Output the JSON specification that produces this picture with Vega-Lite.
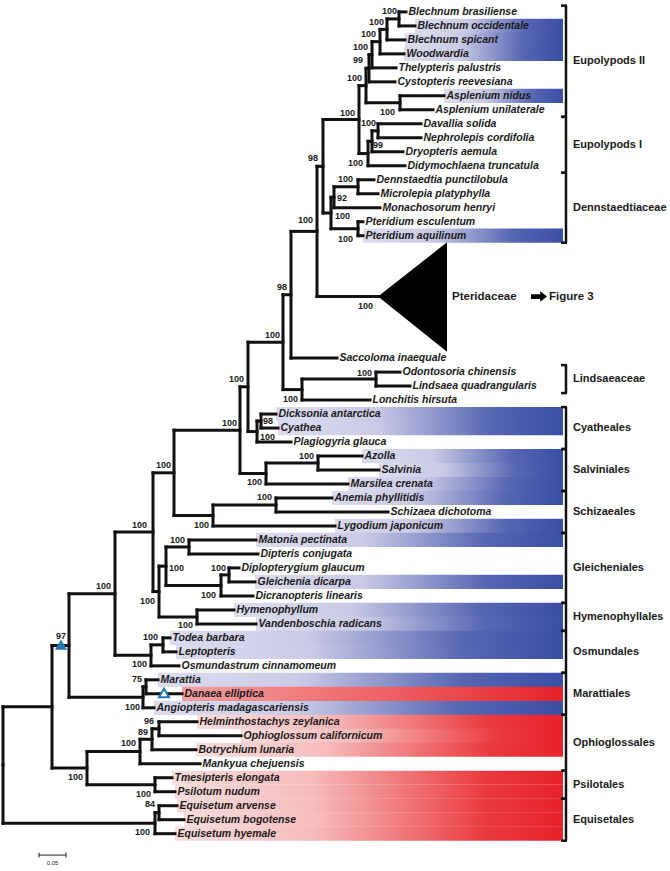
{
  "$schema": "https://vega.github.io/schema/vega-lite/v6.json",
  "width": 670,
  "height": 871,
  "padding": 0,
  "autosize": {"type": "fit", "contains": "padding"},
  "background": "white",
  "view": {"stroke": null},
  "config": {"axis": {"disable": true}},
  "datasets": {
    "tips": [
      {"name":"Blechnum brasiliense","row":0,"px":399,"tx":406,"box":"none"},
      {"name":"Blechnum occidentale","row":1,"px":399,"tx":415,"box":"blue"},
      {"name":"Blechnum spicant","row":2,"px":387,"tx":405,"box":"blue"},
      {"name":"Woodwardia","row":3,"px":380,"tx":404,"box":"blue"},
      {"name":"Thelypteris palustris","row":4,"px":372,"tx":396,"box":"none"},
      {"name":"Cystopteris reevesiana","row":5,"px":369,"tx":395,"box":"none"},
      {"name":"Asplenium nidus","row":6,"px":400,"tx":444,"box":"blue"},
      {"name":"Asplenium unilaterale","row":7,"px":400,"tx":433,"box":"none"},
      {"name":"Davallia solida","row":8,"px":378,"tx":421,"box":"none"},
      {"name":"Nephrolepis cordifolia","row":9,"px":378,"tx":421,"box":"none"},
      {"name":"Dryopteris aemula","row":10,"px":372,"tx":403,"box":"none"},
      {"name":"Didymochlaena truncatula","row":11,"px":368,"tx":405,"box":"none"},
      {"name":"Dennstaedtia punctilobula","row":12,"px":358,"tx":374,"box":"none"},
      {"name":"Microlepia platyphylla","row":13,"px":358,"tx":378,"box":"none"},
      {"name":"Monachosorum henryi","row":14,"px":334,"tx":380,"box":"none"},
      {"name":"Pteridium esculentum","row":15,"px":358,"tx":363,"box":"none"},
      {"name":"Pteridium aquilinum","row":16,"px":358,"tx":363,"box":"blue"},
      {"name":"Saccoloma inaequale","row":24.75,"px":291,"tx":337,"box":"none"},
      {"name":"Odontosoria chinensis","row":25.75,"px":376,"tx":400,"box":"none"},
      {"name":"Lindsaea quadrangularis","row":26.75,"px":376,"tx":410,"box":"none"},
      {"name":"Lonchitis hirsuta","row":27.75,"px":302,"tx":370,"box":"none"},
      {"name":"Dicksonia antarctica","row":28.75,"px":261,"tx":276,"box":"blue"},
      {"name":"Cyathea","row":29.75,"px":261,"tx":278,"box":"blue"},
      {"name":"Plagiogyria glauca","row":30.75,"px":257,"tx":291,"box":"none"},
      {"name":"Azolla","row":31.75,"px":318,"tx":362,"box":"blue"},
      {"name":"Salvinia","row":32.75,"px":318,"tx":379,"box":"blue"},
      {"name":"Marsilea crenata","row":33.75,"px":266,"tx":348,"box":"blue"},
      {"name":"Anemia phyllitidis","row":34.75,"px":276,"tx":332,"box":"blue"},
      {"name":"Schizaea dichotoma","row":35.75,"px":276,"tx":388,"box":"none"},
      {"name":"Lygodium japonicum","row":36.75,"px":213,"tx":335,"box":"blue"},
      {"name":"Matonia pectinata","row":37.75,"px":189,"tx":256,"box":"blue"},
      {"name":"Dipteris conjugata","row":38.75,"px":189,"tx":258,"box":"none"},
      {"name":"Diplopterygium glaucum","row":39.75,"px":229,"tx":239,"box":"none"},
      {"name":"Gleichenia dicarpa","row":40.75,"px":229,"tx":255,"box":"blue"},
      {"name":"Dicranopteris linearis","row":41.75,"px":221,"tx":253,"box":"none"},
      {"name":"Hymenophyllum","row":42.75,"px":197,"tx":234,"box":"blue"},
      {"name":"Vandenboschia radicans","row":43.75,"px":197,"tx":256,"box":"blue"},
      {"name":"Todea barbara","row":44.75,"px":163,"tx":170,"box":"blue"},
      {"name":"Leptopteris","row":45.75,"px":163,"tx":176,"box":"blue"},
      {"name":"Osmundastrum cinnamomeum","row":46.75,"px":151,"tx":179,"box":"none"},
      {"name":"Marattia","row":47.75,"px":146,"tx":158,"box":"blue"},
      {"name":"Danaea elliptica","row":48.75,"px":146,"tx":182,"box":"red2"},
      {"name":"Angiopteris madagascariensis","row":49.75,"px":143,"tx":154,"box":"blue"},
      {"name":"Helminthostachys zeylanica","row":50.75,"px":159,"tx":197,"box":"red"},
      {"name":"Ophioglossum californicum","row":51.75,"px":159,"tx":241,"box":"red"},
      {"name":"Botrychium lunaria","row":52.75,"px":152,"tx":196,"box":"red"},
      {"name":"Mankyua chejuensis","row":53.75,"px":140,"tx":200,"box":"none"},
      {"name":"Tmesipteris elongata","row":54.75,"px":155,"tx":172,"box":"red"},
      {"name":"Psilotum nudum","row":55.75,"px":155,"tx":175,"box":"red"},
      {"name":"Equisetum arvense","row":56.75,"px":159,"tx":177,"box":"red"},
      {"name":"Equisetum bogotense","row":57.75,"px":159,"tx":184,"box":"red"},
      {"name":"Equisetum hyemale","row":58.75,"px":155,"tx":175,"box":"red"}
    ],
    "nodes": [
      {"id":"A","x":399,"y1":0,"y2":1,"ym":0.5,"px":387,"label":"100","lx":397,"ly":-0.07},
      {"id":"B","x":387,"y1":0.5,"y2":2,"ym":1.25,"px":380,"label":"100","lx":384,"ly":0.71},
      {"id":"C","x":380,"y1":1.25,"y2":3,"ym":2.125,"px":372,"label":"100","lx":376,"ly":1.55},
      {"id":"D","x":372,"y1":2.125,"y2":4,"ym":3.06,"px":369,"label":"100","lx":368,"ly":2.54},
      {"id":"E","x":369,"y1":3.06,"y2":5,"ym":4.03,"px":366,"label":"99","lx":363,"ly":3.46},
      {"id":"Asp","x":400,"y1":6,"y2":7,"ym":6.5,"px":366,"label":"100","lx":395,"ly":7.14},
      {"id":"F","x":366,"y1":4.03,"y2":6.5,"ym":5.27,"px":359,"label":"100","lx":362,"ly":4.73},
      {"id":"N1","x":378,"y1":8,"y2":9,"ym":8.5,"px":372,"label":"100","lx":376,"ly":7.92},
      {"id":"N2","x":372,"y1":8.5,"y2":10,"ym":9.25,"px":368,"label":"99","lx":383,"ly":9.54},
      {"id":"N3","x":368,"y1":9.25,"y2":11,"ym":10.125,"px":359,"label":"100","lx":363,"ly":10.81},
      {"id":"G","x":359,"y1":5.27,"y2":10.125,"ym":7.7,"px":323,"label":"100","lx":355,"ly":7.21},
      {"id":"H1","x":358,"y1":12,"y2":13,"ym":12.5,"px":334,"label":"100","lx":353,"ly":11.94},
      {"id":"H2","x":334,"y1":12.5,"y2":14,"ym":13.25,"px":331,"label":"92","lx":347,"ly":13.29},
      {"id":"H3","x":358,"y1":15,"y2":16,"ym":15.5,"px":331,"label":"100","lx":353,"ly":16.25},
      {"id":"H4","x":331,"y1":13.25,"y2":15.5,"ym":14.375,"px":323,"label":"100","lx":350,"ly":14.56},
      {"id":"I","x":323,"y1":7.7,"y2":14.375,"ym":11.04,"px":317,"label":"98","lx":318,"ly":10.46},
      {"id":"J","x":317,"y1":11.04,"y2":20.35,"ym":15.69,"px":291,"label":"100","lx":313,"ly":14.91},
      {"id":"Pt","x":378,"y1":20.35,"y2":20.35,"ym":20.35,"px":317,"label":"100","lx":373,"ly":21.06},
      {"id":"K","x":291,"y1":15.69,"y2":24.75,"ym":20.22,"px":283,"label":"98","lx":287,"ly":19.65},
      {"id":"M2","x":376,"y1":25.75,"y2":26.75,"ym":26.25,"px":302,"label":"100","lx":372,"ly":25.8},
      {"id":"M","x":302,"y1":26.25,"y2":27.75,"ym":27,"px":283,"label":"100","lx":298,"ly":27.7},
      {"id":"L","x":283,"y1":20.22,"y2":27,"ym":23.61,"px":248,"label":"100","lx":280,"ly":23.11},
      {"id":"O1","x":261,"y1":28.75,"y2":29.75,"ym":29.25,"px":257,"label":"98","lx":273,"ly":29.26},
      {"id":"O2","x":257,"y1":29.25,"y2":30.75,"ym":30,"px":248,"label":"100","lx":275,"ly":30.39},
      {"id":"N","x":248,"y1":23.61,"y2":30,"ym":26.8,"px":240,"label":"100","lx":244,"ly":26.22},
      {"id":"Q1","x":318,"y1":31.75,"y2":32.75,"ym":32.25,"px":266,"label":"100","lx":314,"ly":31.73},
      {"id":"Q2","x":266,"y1":32.25,"y2":33.75,"ym":33,"px":240,"label":"100","lx":262,"ly":33.64},
      {"id":"P","x":240,"y1":26.8,"y2":33,"ym":29.9,"px":174,"label":"100","lx":237,"ly":29.4},
      {"id":"S1","x":276,"y1":34.75,"y2":35.75,"ym":35.25,"px":213,"label":"100","lx":272,"ly":34.7},
      {"id":"S2","x":213,"y1":35.25,"y2":36.75,"ym":36,"px":174,"label":"100","lx":209,"ly":36.68},
      {"id":"R","x":174,"y1":29.9,"y2":36,"ym":32.95,"px":153,"label":"100","lx":171,"ly":32.37},
      {"id":"T1","x":189,"y1":37.75,"y2":38.75,"ym":38.25,"px":166,"label":"100","lx":185,"ly":37.74},
      {"id":"T2","x":229,"y1":39.75,"y2":40.75,"ym":40.25,"px":221,"label":"100","lx":226,"ly":39.72},
      {"id":"T3","x":221,"y1":40.25,"y2":41.75,"ym":41,"px":166,"label":"100","lx":216,"ly":41.7},
      {"id":"T4","x":166,"y1":38.25,"y2":41,"ym":39.625,"px":159,"label":"100","lx":184,"ly":39.72},
      {"id":"U1","x":197,"y1":42.75,"y2":43.75,"ym":43.25,"px":159,"label":"100","lx":193,"ly":43.82},
      {"id":"T5","x":159,"y1":39.625,"y2":43.25,"ym":41.44,"px":153,"label":"100","lx":155,"ly":42.12},
      {"id":"V","x":153,"y1":32.95,"y2":41.44,"ym":37.19,"px":115,"label":"100","lx":147,"ly":36.68},
      {"id":"X1","x":163,"y1":44.75,"y2":45.75,"ym":45.25,"px":151,"label":"100","lx":158,"ly":44.66},
      {"id":"X2","x":151,"y1":45.25,"y2":46.75,"ym":46,"px":115,"label":"100","lx":147,"ly":46.64},
      {"id":"W","x":115,"y1":37.19,"y2":46,"ym":41.6,"px":69,"label":"100","lx":111,"ly":41.06},
      {"id":"Z1","x":146,"y1":47.75,"y2":48.75,"ym":48.25,"px":143,"label":"75","lx":142,"ly":47.7},
      {"id":"Z2","x":143,"y1":48.25,"y2":49.75,"ym":49,"px":69,"label":"100","lx":140,"ly":49.68},
      {"id":"Y","x":69,"y1":41.6,"y2":49,"ym":45.3,"px":52,"label":"97","lx":66,"ly":44.6},
      {"id":"BB1","x":159,"y1":50.75,"y2":51.75,"ym":51.25,"px":152,"label":"96","lx":154,"ly":50.67},
      {"id":"BB2","x":152,"y1":51.25,"y2":52.75,"ym":52,"px":140,"label":"89","lx":148,"ly":51.45},
      {"id":"BB3","x":140,"y1":52,"y2":53.75,"ym":52.875,"px":87,"label":"100","lx":136,"ly":52.3},
      {"id":"PS","x":155,"y1":54.75,"y2":55.75,"ym":55.25,"px":87,"label":"100","lx":151,"ly":55.9},
      {"id":"BB","x":87,"y1":52.875,"y2":55.25,"ym":54.06,"px":52,"label":"100","lx":83,"ly":54.7},
      {"id":"AA","x":52,"y1":45.3,"y2":54.06,"ym":49.68,"px":3,"label":""},
      {"id":"EE1","x":159,"y1":56.75,"y2":57.75,"ym":57.25,"px":155,"label":"84","lx":155,"ly":56.6},
      {"id":"EE2","x":155,"y1":57.25,"y2":58.75,"ym":58,"px":3,"label":"100","lx":150,"ly":58.66},
      {"id":"Root","x":3,"y1":49.68,"y2":58,"ym":53.84,"px":3,"label":""}
    ],
    "clades": [
      {"name":"Eupolypods II","top":-0.45,"bot":7.5,"lab":3.5},
      {"name":"Eupolypods I","top":7.5,"bot":11.5,"lab":9.5},
      {"name":"Dennstaedtiaceae","top":11.5,"bot":16.5,"lab":14},
      {"name":"Lindsaeaceae","top":25.25,"bot":27.25,"lab":26.25},
      {"name":"Cyatheales","top":28.25,"bot":31.25,"lab":29.75},
      {"name":"Salviniales","top":31.25,"bot":34.25,"lab":32.75},
      {"name":"Schizaeales","top":34.25,"bot":37.25,"lab":35.75},
      {"name":"Gleicheniales","top":37.25,"bot":42.25,"lab":39.75},
      {"name":"Hymenophyllales","top":42.25,"bot":44.25,"lab":43.25},
      {"name":"Osmundales","top":44.25,"bot":47.25,"lab":45.75},
      {"name":"Marattiales","top":47.25,"bot":50.25,"lab":48.75},
      {"name":"Ophioglossales","top":50.25,"bot":54.25,"lab":52.25},
      {"name":"Psilotales","top":54.25,"bot":56.25,"lab":55.25},
      {"name":"Equisetales","top":56.25,"bot":59.25,"lab":57.75}
    ],
    "pter": [
      {"x":378,"lo":20.35,"hi":20.35},
      {"x":447,"lo":16.47,"hi":24.29}
    ],
    "marks": [
      {"kind":"filled","x":61,"y":45.23},
      {"kind":"open","x":164,"y":48.69},
      {"kind":"arrow","x":539,"y":20.35}
    ],
    "notes": [
      {"text":"Pteridaceae","x":452,"y":20.35},
      {"text":"Figure 3","x":549,"y":20.35}
    ],
    "scalebar": [
      {"x":39,"x2":66,"y":60.28,"yt":60.1,"yb":60.46,"label":"0.05","lx":52.5,"ly":60.85}
    ]
  },
  "layer": [
    {
      "data": {"name": "tips"},
      "transform": [{"filter": "datum.box == 'blue'"}],
      "mark": {"type": "bar", "orient": "horizontal", "size": 14.2,
        "fill": {"gradient": "linear", "x1": 0, "y1": 0, "x2": 1, "y2": 0,
          "stops": [{"offset": 0, "color": "#dcdcf0"}, {"offset": 0.35, "color": "#cacae6"}, {"offset": 0.75, "color": "#5566b2"}, {"offset": 1, "color": "#3a4ea5"}]}},
      "encoding": {
        "x": {"field": "tx", "type": "quantitative", "scale": {"domain": [0, 670], "nice": false, "zero": false}, "axis": null},
        "x2": {"datum": 563},
        "y": {"field": "row", "type": "quantitative", "scale": {"domain": [-0.4947, 61.06], "reverse": true, "nice": false, "zero": false}, "axis": null}
      }
    },
    {
      "data": {"name": "tips"},
      "transform": [{"filter": "datum.box == 'red'"}],
      "mark": {"type": "bar", "orient": "horizontal", "size": 14.2,
        "fill": {"gradient": "linear", "x1": 0, "y1": 0, "x2": 1, "y2": 0,
          "stops": [{"offset": 0, "color": "#fbdcdc"}, {"offset": 0.35, "color": "#f6bcbc"}, {"offset": 0.8, "color": "#ea3a3e"}, {"offset": 1, "color": "#e6222a"}]}},
      "encoding": {
        "x": {"field": "tx", "type": "quantitative", "scale": {"domain": [0, 670], "nice": false, "zero": false}, "axis": null},
        "x2": {"datum": 563},
        "y": {"field": "row", "type": "quantitative", "scale": {"domain": [-0.4947, 61.06], "reverse": true, "nice": false, "zero": false}, "axis": null}
      }
    },
    {
      "data": {"name": "tips"},
      "transform": [{"filter": "datum.box == 'red2'"}],
      "mark": {"type": "bar", "orient": "horizontal", "size": 14.2,
        "fill": {"gradient": "linear", "x1": 0, "y1": 0, "x2": 1, "y2": 0,
          "stops": [{"offset": 0, "color": "#f4a0a0"}, {"offset": 0.5, "color": "#ee6668"}, {"offset": 1, "color": "#e6222a"}]}},
      "encoding": {
        "x": {"field": "tx", "type": "quantitative", "scale": {"domain": [0, 670], "nice": false, "zero": false}, "axis": null},
        "x2": {"datum": 563},
        "y": {"field": "row", "type": "quantitative", "scale": {"domain": [-0.4947, 61.06], "reverse": true, "nice": false, "zero": false}, "axis": null}
      }
    },
    {
      "data": {"name": "tips"},
      "mark": {"type": "rule", "strokeWidth": 3, "strokeCap": "square", "color": "#111111"},
      "encoding": {
        "x": {"field": "px", "type": "quantitative", "scale": {"domain": [0, 670], "nice": false, "zero": false}, "axis": null},
        "x2": {"field": "tx"},
        "y": {"field": "row", "type": "quantitative", "scale": {"domain": [-0.4947, 61.06], "reverse": true, "nice": false, "zero": false}, "axis": null}
      }
    },
    {
      "data": {"name": "nodes"},
      "mark": {"type": "rule", "strokeWidth": 3, "strokeCap": "square", "color": "#111111"},
      "encoding": {
        "x": {"field": "x", "type": "quantitative", "scale": {"domain": [0, 670], "nice": false, "zero": false}, "axis": null},
        "y": {"field": "y1", "type": "quantitative", "scale": {"domain": [-0.4947, 61.06], "reverse": true, "nice": false, "zero": false}, "axis": null},
        "y2": {"field": "y2"}
      }
    },
    {
      "data": {"name": "nodes"},
      "mark": {"type": "rule", "strokeWidth": 3, "strokeCap": "square", "color": "#111111"},
      "encoding": {
        "x": {"field": "px", "type": "quantitative", "scale": {"domain": [0, 670], "nice": false, "zero": false}, "axis": null},
        "x2": {"field": "x"},
        "y": {"field": "ym", "type": "quantitative", "scale": {"domain": [-0.4947, 61.06], "reverse": true, "nice": false, "zero": false}, "axis": null}
      }
    },
    {
      "data": {"name": "pter"},
      "mark": {"type": "area", "color": "#000000", "opacity": 1},
      "encoding": {
        "x": {"field": "x", "type": "quantitative", "scale": {"domain": [0, 670], "nice": false, "zero": false}, "axis": null},
        "y": {"field": "lo", "type": "quantitative", "scale": {"domain": [-0.4947, 61.06], "reverse": true, "nice": false, "zero": false}, "axis": null},
        "y2": {"field": "hi"}
      }
    },
    {
      "data": {"name": "tips"},
      "mark": {"type": "text", "align": "left", "baseline": "middle", "dx": 2.5, "font": "Liberation Sans", "fontSize": 10.5, "fontStyle": "italic", "fontWeight": "bold", "color": "#1a1a1a"},
      "encoding": {
        "x": {"field": "tx", "type": "quantitative", "scale": {"domain": [0, 670], "nice": false, "zero": false}, "axis": null},
        "y": {"field": "row", "type": "quantitative", "scale": {"domain": [-0.4947, 61.06], "reverse": true, "nice": false, "zero": false}, "axis": null},
        "text": {"field": "name"}
      }
    },
    {
      "data": {"name": "nodes"},
      "transform": [{"filter": "datum.label != ''"}],
      "mark": {"type": "text", "align": "right", "baseline": "middle", "font": "Liberation Sans", "fontSize": 9, "fontWeight": "bold", "color": "#1a1a1a"},
      "encoding": {
        "x": {"field": "lx", "type": "quantitative", "scale": {"domain": [0, 670], "nice": false, "zero": false}, "axis": null},
        "y": {"field": "ly", "type": "quantitative", "scale": {"domain": [-0.4947, 61.06], "reverse": true, "nice": false, "zero": false}, "axis": null},
        "text": {"field": "label"}
      }
    },
    {
      "data": {"name": "clades"},
      "mark": {"type": "rule", "strokeWidth": 2.5, "color": "#111111"},
      "encoding": {
        "x": {"datum": 566, "type": "quantitative", "scale": {"domain": [0, 670], "nice": false, "zero": false}, "axis": null},
        "y": {"field": "top", "type": "quantitative", "scale": {"domain": [-0.4947, 61.06], "reverse": true, "nice": false, "zero": false}, "axis": null},
        "y2": {"field": "bot"}
      }
    },
    {
      "data": {"name": "clades"},
      "mark": {"type": "rule", "strokeWidth": 2.5, "color": "#111111"},
      "encoding": {
        "x": {"datum": 561, "type": "quantitative", "scale": {"domain": [0, 670], "nice": false, "zero": false}, "axis": null},
        "x2": {"datum": 567},
        "y": {"field": "top", "type": "quantitative", "scale": {"domain": [-0.4947, 61.06], "reverse": true, "nice": false, "zero": false}, "axis": null}
      }
    },
    {
      "data": {"name": "clades"},
      "mark": {"type": "rule", "strokeWidth": 2.5, "color": "#111111"},
      "encoding": {
        "x": {"datum": 561, "type": "quantitative", "scale": {"domain": [0, 670], "nice": false, "zero": false}, "axis": null},
        "x2": {"datum": 567},
        "y": {"field": "bot", "type": "quantitative", "scale": {"domain": [-0.4947, 61.06], "reverse": true, "nice": false, "zero": false}, "axis": null}
      }
    },
    {
      "data": {"name": "clades"},
      "mark": {"type": "text", "align": "left", "baseline": "middle", "font": "Liberation Sans", "fontSize": 11, "fontWeight": "bold", "color": "#1a1a1a"},
      "encoding": {
        "x": {"datum": 573, "type": "quantitative", "scale": {"domain": [0, 670], "nice": false, "zero": false}, "axis": null},
        "y": {"field": "lab", "type": "quantitative", "scale": {"domain": [-0.4947, 61.06], "reverse": true, "nice": false, "zero": false}, "axis": null},
        "text": {"field": "name"}
      }
    },
    {
      "data": {"name": "notes"},
      "mark": {"type": "text", "align": "left", "baseline": "middle", "font": "Liberation Sans", "fontSize": 11.5, "fontWeight": "bold", "color": "#1a1a1a"},
      "encoding": {
        "x": {"field": "x", "type": "quantitative", "scale": {"domain": [0, 670], "nice": false, "zero": false}, "axis": null},
        "y": {"field": "y", "type": "quantitative", "scale": {"domain": [-0.4947, 61.06], "reverse": true, "nice": false, "zero": false}, "axis": null},
        "text": {"field": "text"}
      }
    },
    {
      "data": {"name": "marks"},
      "transform": [{"filter": "datum.kind == 'filled'"}],
      "mark": {"type": "point", "shape": "M 0 -0.85 L 1 0.85 L -1 0.85 Z", "size": 144, "filled": true, "fill": "#1f78b4", "stroke": null, "opacity": 1},
      "encoding": {
        "x": {"field": "x", "type": "quantitative", "scale": {"domain": [0, 670], "nice": false, "zero": false}, "axis": null},
        "y": {"field": "y", "type": "quantitative", "scale": {"domain": [-0.4947, 61.06], "reverse": true, "nice": false, "zero": false}, "axis": null}
      }
    },
    {
      "data": {"name": "marks"},
      "transform": [{"filter": "datum.kind == 'open'"}],
      "mark": {"type": "point", "shape": "M 0 -0.85 L 1 0.85 L -1 0.85 Z", "size": 100, "filled": true, "fill": "#ffffff", "stroke": "#1f78b4", "strokeWidth": 2, "opacity": 1},
      "encoding": {
        "x": {"field": "x", "type": "quantitative", "scale": {"domain": [0, 670], "nice": false, "zero": false}, "axis": null},
        "y": {"field": "y", "type": "quantitative", "scale": {"domain": [-0.4947, 61.06], "reverse": true, "nice": false, "zero": false}, "axis": null}
      }
    },
    {
      "data": {"name": "marks"},
      "transform": [{"filter": "datum.kind == 'arrow'"}],
      "mark": {"type": "point", "shape": "M -1 -0.3 L 0.15 -0.3 L 0.15 -0.65 L 1 0 L 0.15 0.65 L 0.15 0.3 L -1 0.3 Z", "size": 256, "filled": true, "fill": "#000000", "stroke": null, "opacity": 1},
      "encoding": {
        "x": {"field": "x", "type": "quantitative", "scale": {"domain": [0, 670], "nice": false, "zero": false}, "axis": null},
        "y": {"field": "y", "type": "quantitative", "scale": {"domain": [-0.4947, 61.06], "reverse": true, "nice": false, "zero": false}, "axis": null}
      }
    },
    {
      "data": {"name": "scalebar"},
      "mark": {"type": "rule", "strokeWidth": 1, "color": "#222222"},
      "encoding": {
        "x": {"field": "x", "type": "quantitative", "scale": {"domain": [0, 670], "nice": false, "zero": false}, "axis": null},
        "x2": {"field": "x2"},
        "y": {"field": "y", "type": "quantitative", "scale": {"domain": [-0.4947, 61.06], "reverse": true, "nice": false, "zero": false}, "axis": null}
      }
    },
    {
      "data": {"name": "scalebar"},
      "mark": {"type": "rule", "strokeWidth": 1, "color": "#222222"},
      "encoding": {
        "x": {"field": "x", "type": "quantitative", "scale": {"domain": [0, 670], "nice": false, "zero": false}, "axis": null},
        "y": {"field": "yt", "type": "quantitative", "scale": {"domain": [-0.4947, 61.06], "reverse": true, "nice": false, "zero": false}, "axis": null},
        "y2": {"field": "yb"}
      }
    },
    {
      "data": {"name": "scalebar"},
      "mark": {"type": "rule", "strokeWidth": 1, "color": "#222222"},
      "encoding": {
        "x": {"field": "x2", "type": "quantitative", "scale": {"domain": [0, 670], "nice": false, "zero": false}, "axis": null},
        "y": {"field": "yt", "type": "quantitative", "scale": {"domain": [-0.4947, 61.06], "reverse": true, "nice": false, "zero": false}, "axis": null},
        "y2": {"field": "yb"}
      }
    },
    {
      "data": {"name": "scalebar"},
      "mark": {"type": "text", "align": "center", "baseline": "middle", "font": "Liberation Sans", "fontSize": 6, "color": "#222222"},
      "encoding": {
        "x": {"field": "lx", "type": "quantitative", "scale": {"domain": [0, 670], "nice": false, "zero": false}, "axis": null},
        "y": {"field": "ly", "type": "quantitative", "scale": {"domain": [-0.4947, 61.06], "reverse": true, "nice": false, "zero": false}, "axis": null},
        "text": {"field": "label"}
      }
    }
  ]
}
